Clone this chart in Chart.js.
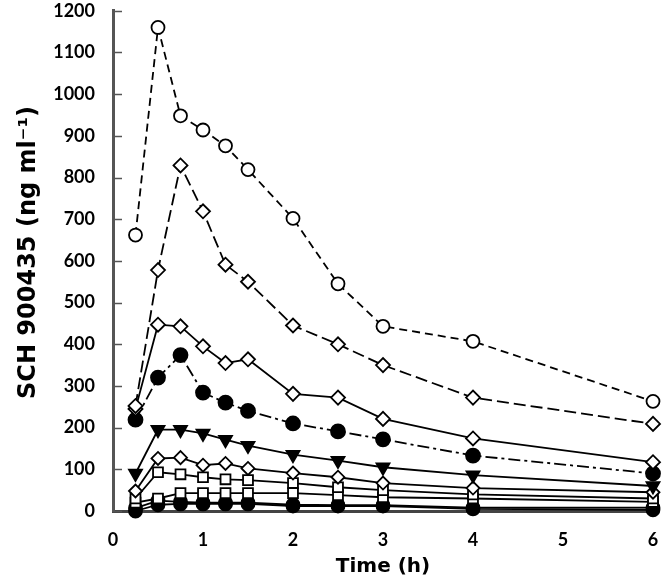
<!DOCTYPE html>
<html>
<head>
<meta charset="utf-8">
<script src="https://cdn.jsdelivr.net/npm/chart.js@4"></script>
<style>
  html, body { margin: 0; padding: 0; background: #fff; }
  #wrap { width: 664px; height: 584px; }
</style>
</head>
<body>
<div id="wrap"><canvas id="pkChart" width="664" height="584"></canvas></div>
<script>
// sampling times (h)
const times = [0.25, 0.5, 0.75, 1, 1.25, 1.5, 2, 2.5, 3, 4, 6];
const xTicks = [0, 1, 2, 3, 4, 5, 6];
const yTicks = [0, 100, 200, 300, 400, 500, 600, 700, 800, 900, 1000, 1100, 1200];

// plasma concentrations (ng/ml), one array per dose group
const conc1 = [662, 1160, 948, 914, 876, 819, 702, 545, 443, 407, 263];
const conc2 = [252, 578, 829, 719, 591, 550, 445, 400, 350, 272, 209];
const conc3 = [245, 447, 443, 395, 355, 364, 281, 272, 221, 174, 117];
const conc4 = [219, 320, 374, 284, 260, 240, 210, 191, 172, 133, 90];
const conc5 = [90, 195, 195, 186, 171, 157, 135, 121, 105, 86, 60];
const conc6 = [48, 126, 128, 110, 114, 102, 91, 81, 67, 55, 45];
const conc7 = [30, 93, 88, 81, 76, 74, 67, 57, 50, 40, 30];
const conc8 = [20, 30, 43, 43, 43, 43, 43, 38, 33, 30, 22];
const conc9 = [7, 25, 22, 20, 20, 20, 15, 14, 14, 8, 8];
const conc10 = [0, 15, 17, 17, 17, 17, 12, 12, 12, 5, 3];

function series(values, style) {
    return Object.assign({
        data: values.map((v, i) => ({x: times[i], y: v})),
        borderColor: '#000',
        borderWidth: 1.8,
        pointBorderColor: '#000',
        pointBorderWidth: 1.8,
        pointBackgroundColor: '#fff',
        pointRadius: 6,
        tension: 0,
        fill: false,
        clip: false
    }, style);
}

// y ticks point inward, drawn from the y scale
const innerTicks = {
    id: 'innerTicks',
    beforeDatasetsDraw(chart) {
        const {ctx, chartArea, scales: {y}} = chart;
        ctx.save();
        ctx.strokeStyle = '#555';
        ctx.lineWidth = 1.5;
        yTicks.forEach(v => {
            const py = Math.round(y.getPixelForValue(v)) + 0.5;
            ctx.beginPath();
            ctx.moveTo(chartArea.left, py);
            ctx.lineTo(chartArea.left + 9, py);
            ctx.stroke();
        });
        ctx.restore();
    }
};

const tickFont = {family: 'Lato', weight: 'bold', size: 18};

new Chart(document.getElementById('pkChart'), {
    type: 'line',
    data: {
        datasets: [
            series(conc1, {borderDash: [8, 5], pointStyle: 'circle', pointRadius: 6.5}),
            series(conc2, {borderDash: [12, 5], pointStyle: 'rectRot', pointRadius: 7}),
            series(conc3, {pointStyle: 'rectRot', pointRadius: 7}),
            series(conc4, {borderDash: [12, 4, 3, 4], pointStyle: 'circle', pointRadius: 7, pointBackgroundColor: '#000'}),
            series(conc5, {pointStyle: 'triangle', pointRotation: 180, pointRadius: 7.5, pointBackgroundColor: '#000'}),
            series(conc6, {pointStyle: 'rectRot', pointRadius: 6.5}),
            series(conc7, {pointStyle: 'rect', pointRadius: 7}),
            series(conc8, {pointStyle: 'rect', pointRadius: 7}),
            series(conc9, {pointStyle: 'circle', pointRadius: 6.5, pointBackgroundColor: '#000'}),
            series(conc10, {pointStyle: 'circle', pointRadius: 6.5, pointBackgroundColor: '#000'})
        ]
    },
    options: {
        responsive: false,
        animation: false,
        layout: {padding: {left: 0, right: 11, top: 7, bottom: 0}},
        plugins: {legend: {display: false}, tooltip: {enabled: false}},
        scales: {
            x: {
                type: 'linear',
                min: 0,
                max: 6,
                afterBuildTicks: s => { s.ticks = xTicks.map(v => ({value: v})); },
                afterFit: s => { s.height = 73; },
                grid: {drawOnChartArea: false, drawTicks: true, tickLength: 18, tickColor: 'rgba(0,0,0,0)'},
                border: {color: '#444', width: 3},
                ticks: {color: '#000', font: tickFont, padding: 0, callback: v => String(v)},
                title: {display: true, text: 'Time (h)', color: '#000',
                        font: {family: 'DejaVu Sans', weight: 'bold', size: 20}, padding: {top: 0, bottom: 5}}
            },
            y: {
                min: 0,
                max: 1200,
                afterBuildTicks: s => { s.ticks = yTicks.map(v => ({value: v})); },
                afterFit: s => { s.width = 113; },
                grid: {drawOnChartArea: false, drawTicks: true, tickLength: 18, tickColor: 'rgba(0,0,0,0)'},
                border: {color: '#555', width: 3},
                ticks: {color: '#000', font: tickFont, padding: 0, callback: v => String(v)},
                title: {display: true, text: '  SCH 900435 (ng ml⁻¹)', color: '#000',
                        font: {family: 'DejaVu Sans', weight: 'bold', size: 24}, padding: {top: 14, bottom: 0}}
            }
        }
    },
    plugins: [innerTicks]
});
</script>
</body>
</html>
